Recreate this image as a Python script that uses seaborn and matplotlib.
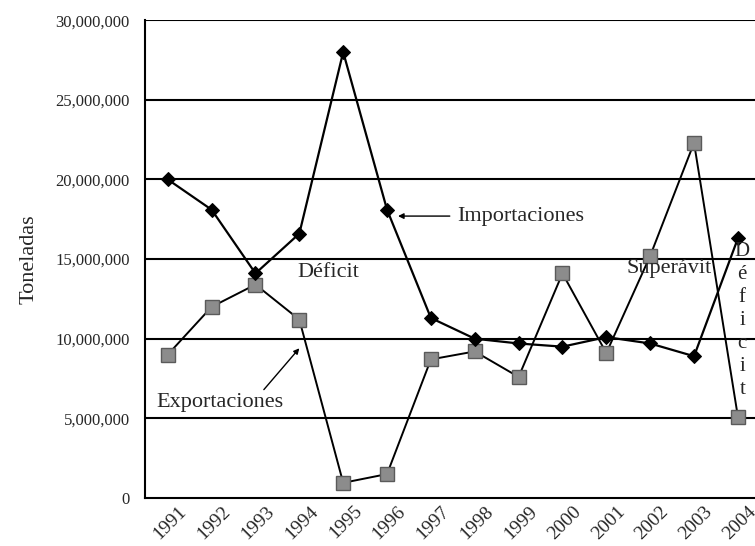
import numpy as np
import pandas as pd
import matplotlib
matplotlib.use("Agg")
import matplotlib.pyplot as plt
import matplotlib.transforms as mtransforms
import seaborn as sns

# Data (tonnes)
years = [1991, 1992, 1993, 1994, 1995, 1996, 1997, 1998, 1999, 2000, 2001, 2002, 2003, 2004]
importaciones = [20.0, 18.1, 14.1, 16.6, 28.0, 18.1, 11.3, 10.0, 9.7, 9.5, 10.1, 9.7, 8.9, 16.3]
exportaciones = [9.0, 12.0, 13.4, 11.2, 0.95, 1.5, 8.7, 9.2, 7.6, 14.1, 9.1, 15.2, 22.3, 5.1]
y_ticks = [0, 5, 10, 15, 20, 25, 30]

df = pd.DataFrame({
    "year": years,
    "imp": np.array(importaciones) * 1e6,
    "exp": np.array(exportaciones) * 1e6,
})

sns.set_style("white")
plt.rcParams["font.family"] = ["Liberation Serif", "DejaVu Serif"]

fig = plt.figure(figsize=(7.55, 5.46), dpi=100)
ax = fig.add_axes([0.192, 0.088, 0.808, 0.875])

sns.lineplot(data=df, x="year", y="exp", ax=ax, color="black", linewidth=1.4,
             marker="s", markersize=10, markerfacecolor="#8c8c8c",
             markeredgecolor="#5a5a5a", markeredgewidth=1)
sns.lineplot(data=df, x="year", y="imp", ax=ax, color="black", linewidth=1.6,
             marker="D", markersize=7, markerfacecolor="black",
             markeredgecolor="black")

ax.set_xlim(1990.48, 2004.39)
ax.set_ylim(0, 30e6)

# horizontal rules
for v in y_ticks[1:]:
    ax.axhline(v * 1e6, color="black", linewidth=1.5, zorder=0)

ax.set_yticks([v * 1e6 for v in y_ticks])
ax.set_yticklabels([f"{v * 1000000:,}" for v in y_ticks], fontsize=12)
ax.set_xticks(years)
ax.set_xticklabels([str(y) for y in years], rotation=45, ha="right", va="top",
                   rotation_mode="anchor", fontsize=14)
ax.tick_params(axis="x", which="major", length=0, pad=2)
ax.set_xticks([y + 0.5 for y in years[:-1]], minor=True)
ax.tick_params(axis="x", which="minor", length=5, width=1, color="black", direction="out")
ax.tick_params(axis="y", length=5, width=1, color="black", direction="out", pad=6)

# nudge year labels to the right, like the original
offset = mtransforms.ScaledTranslation(10 / 100, -2 / 100, fig.dpi_scale_trans)
for lbl in ax.get_xticklabels():
    lbl.set_transform(lbl.get_transform() + offset)

for s in ["top", "right"]:
    ax.spines[s].set_visible(False)
for s in ["left", "bottom"]:
    ax.spines[s].set_color("black")
    ax.spines[s].set_linewidth(1.5)

ax.set_xlabel("")
ax.set_ylabel("Toneladas", fontsize=16, labelpad=12)

# annotations
ax.text(1993.95, 13.9e6, "Déficit", fontsize=16)
ax.annotate("Importaciones", xy=(1996.25, 17.7e6), xytext=(1997.6, 17.7e6),
            fontsize=16, va="center",
            arrowprops=dict(arrowstyle="-|>", color="black", lw=1, mutation_scale=8,
                            shrinkA=3, shrinkB=0))
ax.annotate("Exportaciones", xy=(1994.0, 9.4e6), xytext=(1990.75, 6.0e6),
            fontsize=16, va="center",
            arrowprops=dict(arrowstyle="-|>", color="black", lw=1, mutation_scale=8,
                            shrinkA=0, shrinkB=0, relpos=(0.82, 1.0)))
ax.text(2001.45, 14.4e6, "Superávit", fontsize=16, va="center")
for i, ch in enumerate("Déficit"):
    ax.text(2004.1, 15.5e6 - i * 1.45e6, ch, fontsize=15, ha="center", va="center")

fig.savefig("out.png", dpi=100)
